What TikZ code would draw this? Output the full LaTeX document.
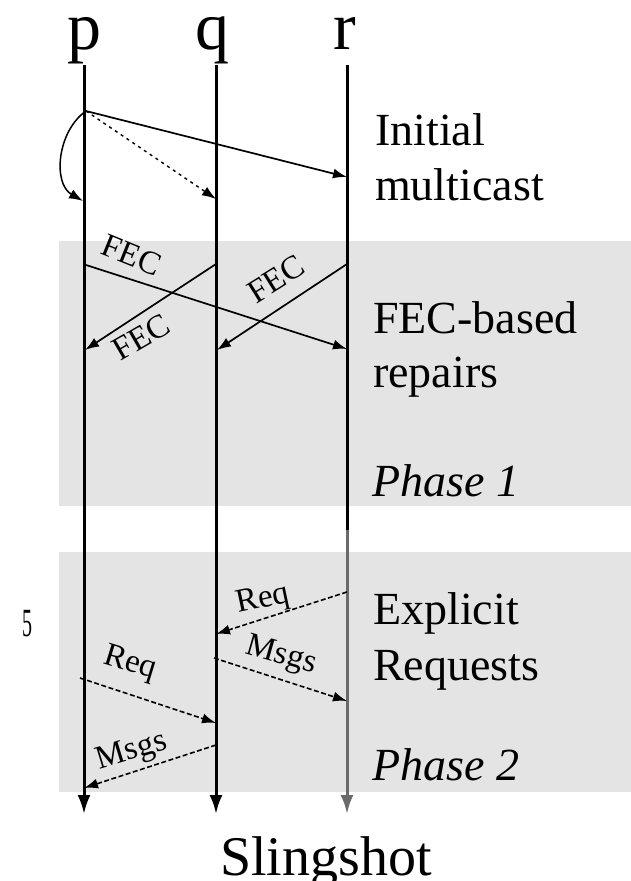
\documentclass[tikz,border=0pt]{standalone}
\usepackage{fontspec}
\setmainfont{Liberation Serif}
\usetikzlibrary{arrows.meta}
\definecolor{panelgray}{HTML}{E4E4E4}
\definecolor{lifegray}{HTML}{6A6A6A}
\begin{document}
\begin{tikzpicture}[x=1pt,y=-1pt,
  panel/.style={fill=panelgray,draw=none},
  lifeline/.style={line width=3pt,-{Latex[length=19pt,width=13pt]}},
  msg/.style={line width=1.7pt,-{Latex[length=14pt,width=10pt]}},
  dotmsg/.style={msg,line width=1.4pt,dash pattern=on 3pt off 4pt},
  reqmsg/.style={msg,line width=1.6pt,dash pattern=on 5pt off 2.5pt},
  proc/.style={font=\fontsize{68}{76}\selectfont,anchor=base,inner sep=0pt},
  side/.style={font=\fontsize{46}{52}\selectfont,anchor=base west,inner sep=0pt},
  phase/.style={side,font=\fontsize{46}{52}\selectfont\itshape},
  tag/.style={font=\fontsize{33}{36}\selectfont,inner sep=0pt}]
\useasboundingbox (0,0) rectangle (631,881);

% shaded phase bands
\fill[panel] (59,241) rectangle (631,506);
\fill[panel] (59,552) rectangle (631,792);

% process names
\node[proc] (np) at (84.5,49) {p};
\node[proc] (nq) at (212.5,49) {q};
\node[proc] (nr) at (344.5,49) {r};

% lifelines
\coordinate (ptop) at (84,65);   \coordinate (pend) at (84,814);
\coordinate (qtop) at (216,65);  \coordinate (qend) at (216,814);
\coordinate (rtop) at (347,65);  \coordinate (rmid) at (347,530);
\coordinate (rend) at (347,814);
\draw[lifeline] (ptop) -- (pend);
\draw[lifeline] (qtop) -- (qend);
\draw[line width=3pt] (rtop) -- (rmid);
\draw[lifeline,lifegray] (rmid) -- (rend);

% initial multicast
\coordinate (src) at (86,111);
\coordinate (selfp) at (83,201);
\coordinate (toq) at (216,199);
\coordinate (tor) at (347,177);
\draw[msg] (src) -- (tor);
\draw[dotmsg] (src) -- (toq);
\draw[msg,line width=1.5pt] (src) to[out=215,in=150] (selfp);

% FEC-based repairs
\coordinate (f1s) at (86,265);  \coordinate (f1e) at (347,349);
\coordinate (f2s) at (216,264); \coordinate (f2e) at (85,350);
\coordinate (f3s) at (347,264); \coordinate (f3e) at (217,350);
\draw[msg] (f1s) -- (f1e);
\draw[msg] (f2s) -- (f2e);
\draw[msg] (f3s) -- (f3e);
\node[tag,rotate=-22] (fec1) at (132,255) {FEC};
\node[tag,rotate=30] (fec2) at (141,337) {FEC};
\node[tag,rotate=32] (fec3) at (276,279) {FEC};

% explicit requests
\coordinate (r1s) at (347,592); \coordinate (r1e) at (216,634);
\coordinate (m1s) at (214,658); \coordinate (m1e) at (347,701);
\coordinate (r2s) at (80,678);  \coordinate (r2e) at (216,723);
\coordinate (m2s) at (216,745); \coordinate (m2e) at (84,788);
\draw[reqmsg] (r1s) -- (r1e);
\draw[reqmsg] (m1s) -- (m1e);
\draw[reqmsg] (r2s) -- (r2e);
\draw[reqmsg] (m2s) -- (m2e);
\node[tag,rotate=12] (req1) at (263,600) {Req};
\node[tag,rotate=-16] (msg1) at (281,656) {Msgs};
\node[tag,rotate=-17] (req2) at (130,664) {Req};
\node[tag,rotate=17] (msg2) at (132,752) {Msgs};

% phase descriptions
\node[side] (t1) at (375,145) {Initial};
\node[side] (t2) at (375,200) {multicast};
\node[side] (t3) at (373,333) {FEC-based};
\node[side] (t4) at (373,387) {repairs};
\node[phase] (t5) at (372,496) {Phase 1};
\node[side] (t6) at (373,624) {Explicit};
\node[side] (t7) at (373,680) {Requests};
\node[phase] (t8) at (372,780) {Phase 2};

% stray margin glyph
\node[font=\fontsize{40}{44}\selectfont,xscale=0.5,inner sep=0pt] (stray) at (28,624) {5};

% title
\node[font=\fontsize{56}{62}\selectfont,anchor=base,inner sep=0pt] (title) at (326,875) {Slingshot};
\end{tikzpicture}
\end{document}
